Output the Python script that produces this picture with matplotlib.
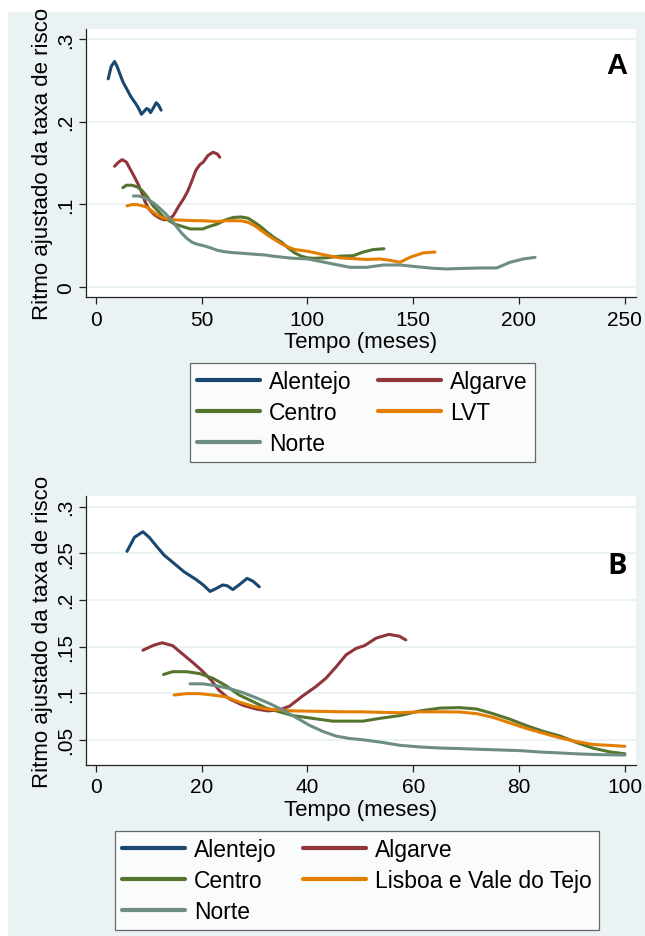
import numpy as np
import matplotlib
matplotlib.use("Agg")
import matplotlib.pyplot as plt

# ---------------- data ----------------
alentejo_x = [5.9, 7.3, 8.9, 10.1, 11.4, 12.9, 14.8, 16.7, 18.9, 20.3, 21.6, 22.7, 24.0, 24.9, 25.9, 27.3, 28.6, 29.7, 30.9]
alentejo_y = [0.252, 0.267, 0.273, 0.267, 0.258, 0.248, 0.239, 0.230, 0.222, 0.216, 0.209, 0.212, 0.216, 0.215, 0.211, 0.217, 0.223, 0.220, 0.214]

algarve_x = [8.9, 10.8, 12.5, 14.5, 16.4, 18.3, 19.9, 21.8, 23.3, 25.2, 27.8, 30.3, 32.5, 34.7, 36.6, 39.1, 41.6, 43.5, 45.4, 47.3, 49.2, 50.8, 53.0, 55.4, 57.4, 58.6]
algarve_y = [0.146, 0.151, 0.154, 0.151, 0.142, 0.133, 0.125, 0.114, 0.103, 0.094, 0.087, 0.083, 0.081, 0.082, 0.086, 0.097, 0.107, 0.116, 0.128, 0.141, 0.148, 0.151, 0.159, 0.163, 0.161, 0.157]

centro_x = [12.8, 14.5, 17.1, 19.6, 22.1, 24.6, 27.1, 29.7, 32.2, 34.7, 37.2, 39.7, 42.2, 44.8, 47.3, 50.5, 53.7, 57.5, 61.3, 65.1, 68.8, 72.0, 75.1, 78.3, 81.5, 84.6, 87.8, 90.9, 94.0, 97.2, 100.0,
            102.8, 109.1, 115.4, 121.7, 126.4, 131.1, 136.2]
centro_y = [0.120, 0.123, 0.123, 0.121, 0.116, 0.108, 0.098, 0.091, 0.084, 0.080, 0.076, 0.074, 0.072, 0.070, 0.070, 0.070, 0.073, 0.076, 0.081, 0.084, 0.0845, 0.083, 0.078, 0.072, 0.065, 0.059, 0.054, 0.047, 0.041, 0.037, 0.035,
            0.0344, 0.035, 0.037, 0.0376, 0.042, 0.045, 0.046]

lvt_x = [14.8, 17.1, 19.6, 22.1, 24.6, 27.1, 29.7, 32.2, 34.7, 37.2, 42.2, 47.3, 50.0, 53.7, 57.5, 61.3, 65.1, 68.8, 72.0, 75.1, 78.3, 81.5, 84.6, 87.8, 90.9, 94.0, 97.2, 100.0,
         109.1, 115.4, 121.7, 128.0, 134.3, 139.0, 143.8, 148.5, 154.8, 160.3]
lvt_y = [0.098, 0.0995, 0.0995, 0.098, 0.096, 0.0905, 0.086, 0.083, 0.082, 0.081, 0.0805, 0.080, 0.080, 0.0795, 0.079, 0.080, 0.080, 0.0798, 0.078, 0.074, 0.068, 0.062, 0.057, 0.052, 0.048, 0.045, 0.044, 0.043,
         0.038, 0.035, 0.034, 0.033, 0.0336, 0.032, 0.0296, 0.0356, 0.041, 0.042]

norte_x = [17.8, 20.2, 22.7, 25.2, 27.8, 30.3, 32.8, 35.3, 37.8, 40.4, 42.9, 45.4, 47.9, 50.5, 53.7, 57.5, 61.3, 65.1, 68.8, 72.6, 76.4, 80.2, 84.0, 87.8, 91.5, 95.3, 100.0,
           104.4, 112.2, 120.1, 128.0, 135.9, 143.8, 151.7, 159.5, 165.8, 175.3, 183.1, 189.5, 195.8, 202.0, 207.6]
norte_y = [0.110, 0.110, 0.108, 0.105, 0.1006, 0.095, 0.089, 0.082, 0.074, 0.0655, 0.059, 0.054, 0.0515, 0.050, 0.0476, 0.0441, 0.0423, 0.0412, 0.0406, 0.0398, 0.0391, 0.0384, 0.0369, 0.0359, 0.0348, 0.0341, 0.0337,
           0.0315, 0.0275, 0.0235, 0.0235, 0.0263, 0.0263, 0.0242, 0.0223, 0.0215, 0.0223, 0.0227, 0.0227, 0.0296, 0.0336, 0.0356]

labels_a = ["Alentejo", "Algarve", "Centro", "LVT", "Norte"]
labels_b = ["Alentejo", "Algarve", "Centro", "Lisboa e Vale do Tejo", "Norte"]
colors = ["#1A476F", "#90353B", "#55752F", "#E37E00", "#6E8E84"]

xticks_a = [0, 50, 100, 150, 200, 250]
yticks_a = [0, 0.1, 0.2, 0.3]
yticklabels_a = ["0", ".1", ".2", ".3"]
xticks_b = [0, 20, 40, 60, 80, 100]
yticks_b = [0.05, 0.1, 0.15, 0.2, 0.25, 0.3]
yticklabels_b = [".05", ".1", ".15", ".2", ".25", ".3"]

series = [(alentejo_x, alentejo_y), (algarve_x, algarve_y), (centro_x, centro_y),
          (lvt_x, lvt_y), (norte_x, norte_y)]

# ---------------- figure ----------------
W, H = 645, 937
plt.rcParams['font.family'] = ['Liberation Sans', 'DejaVu Sans']
fig = plt.figure(figsize=(W / 100, H / 100), dpi=100, facecolor="white")

BG = "#EAF2F3"
fig.patches.append(plt.Rectangle((8 / W, 0), 1 - 8 / W, 1 - 13 / H, transform=fig.transFigure,
                                 facecolor=BG, edgecolor="none", zorder=-10))


def px_axes(l, t, r, b):
    return fig.add_axes([l / W, 1 - b / H, (r - l) / W, (b - t) / H])


def style(ax, xticks, yticks, yticklabels, xlim, ylim):
    ax.set_facecolor("white")
    ax.set_xlim(*xlim)
    ax.set_ylim(*ylim)
    for s in ["top", "right"]:
        ax.spines[s].set_visible(False)
    for s in ["left", "bottom"]:
        ax.spines[s].set_color("#222222")
        ax.spines[s].set_linewidth(0.9)
    ax.set_xticks(xticks)
    ax.set_xticklabels([str(v) for v in xticks])
    ax.set_yticks(yticks)
    ax.set_yticklabels(yticklabels, rotation=90, va="center")
    ax.tick_params(axis="both", direction="out", length=5, width=0.9, color="#222222",
                   labelsize=15, pad=3)
    ax.tick_params(axis="x", pad=4)
    ax.grid(axis="y", color=BG, linewidth=1.3)
    ax.set_axisbelow(True)
    ax.set_xlabel("Tempo (meses)", fontsize=16, labelpad=2)
    ax.set_ylabel("Ritmo ajustado da taxa de risco", fontsize=16, labelpad=2)


# Panel A
axA = px_axes(86, 30, 636, 298)
style(axA, xticks_a, yticks_a, yticklabels_a, (-4.6, 255.3), (-0.0125, 0.3124))
hA = []
for (xs, ys), c, lab in zip(series, colors, labels_a):
    ln, = axA.plot(xs, ys, color=c, lw=2.2, solid_capstyle="round", solid_joinstyle="round", label=lab)
    hA.append(ln)
axA.text(617 / W, 1 - 66 / H, "A", transform=fig.transFigure, fontsize=21, fontweight="bold",
         ha="center", va="center", family=["Liberation Sans Narrow", "Liberation Sans"])

# Panel B
axB = px_axes(86, 497, 636, 766)
style(axB, xticks_b, yticks_b, yticklabels_b, (-1.85, 102.1), (0.023, 0.3113))
hB = []
for (xs, ys), c, lab in zip(series, colors, labels_b):
    xs = np.asarray(xs)
    ys = np.asarray(ys)
    m = xs <= 100.0
    ln, = axB.plot(xs[m], ys[m], color=c, lw=2.2, solid_capstyle="round", solid_joinstyle="round", label=lab)
    hB.append(ln)
axB.text(617 / W, 1 - 567 / H, "B", transform=fig.transFigure, fontsize=21, fontweight="bold",
         ha="center", va="center", family=["Open Sans", "DejaVu Sans"])

ORDER = [0, 2, 4, 1, 3]  # row-major filling of a 2-column legend


def make_legend(handles, labels, left, top):
    hs = [handles[i] for i in ORDER]
    ls = [labels[i] for i in ORDER]
    leg = fig.legend(hs, ls, ncol=2, loc="upper left",
                     bbox_to_anchor=(left / W, 1 - top / H), bbox_transform=fig.transFigure,
                     fontsize=16.5, frameon=True, fancybox=False, borderaxespad=0,
                     handlelength=2.75, handletextpad=0.4, columnspacing=1.15,
                     labelspacing=0.36, borderpad=0.3)
    fr = leg.get_frame()
    fr.set_edgecolor("#444444")
    fr.set_linewidth(0.9)
    fr.set_facecolor("white")
    for l in leg.get_lines():
        l.set_linewidth(3)
    return leg


make_legend(hA, labels_a, 190, 364)
make_legend(hB, labels_b, 115, 832)

fig.savefig("out.png", dpi=100, facecolor="white")
